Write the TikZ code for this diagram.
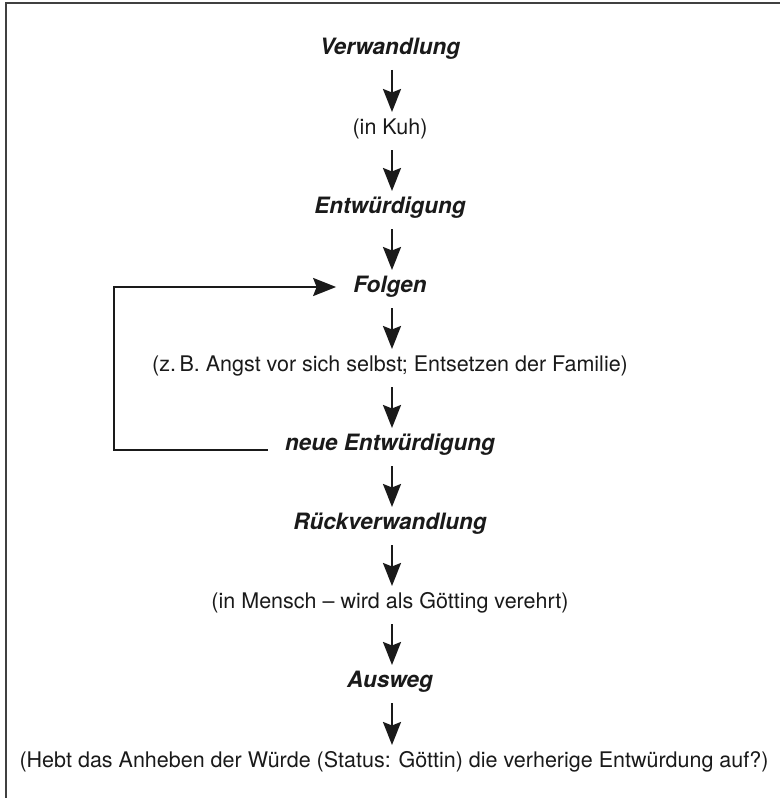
\documentclass[tikz,border=0pt]{standalone}
\usepackage{fontspec}
\setmainfont{TeX Gyre Heros}
\usetikzlibrary{arrows.meta,calc}
\definecolor{ink}{HTML}{1A1A1A}
\definecolor{framegray}{HTML}{404040}
\tikzset{
  lbl/.style={inner sep=0pt, text height=15bp, text depth=4bp, text=ink,
    font=\fontsize{21.5bp}{25bp}\selectfont},
  keyl/.style={lbl, font=\fontsize{22.5bp}{26bp}\selectfont\bfseries\itshape},
  flow/.style={draw=ink, line width=2.2bp, -{Stealth[length=23bp,width=18bp,inset=3.5bp]}},
}
\begin{document}
\begin{tikzpicture}[x=1bp,y=-1bp]
  \useasboundingbox (0,0) rectangle (780,798);
  \fill[white] (0,0) rectangle (780,798);
  \draw[framegray, line width=1.6bp] (6,798) -- (6,3) -- (780,3);

  \node[keyl] (n1) at (390,49) {Verwandlung};
  \node[lbl]  (n2) at (390,129) {(in Kuh)};
  \node[keyl] (n3) at (390,208) {Entwürdigung};
  \node[keyl] (n4) at (390,287) {Folgen};
  \node[lbl]  (n5) at (390,366) {(z.\,B. Angst vor sich selbst; Entsetzen der Familie)};
  \node[keyl] (n6) at (390,445) {neue Entwürdigung};
  \node[keyl] (n7) at (390,524) {Rückverwandlung};
  \node[lbl]  (n8) at (390,603) {(in Mensch – wird als Götting verehrt)};
  \node[keyl] (n9) at (390,682) {Ausweg};
  \node[lbl]  (n10) at (394,762) {(Hebt das Anheben der Würde (Status: Göttin) die verherige Entwürdung auf?)};

  \foreach \a/\b in {n1/n2,n2/n3,n3/n4,n4/n5,n5/n6,n6/n7,n7/n8,n8/n9,n9/n10}{
    \draw[flow] ($(\a.center)+(2,21)$) coordinate (s) -- (s |- {$(\b.center)+(0,-17)$});
  }

  \coordinate (lpA) at ($(n6.west)+(-17,5)$);
  \coordinate (lpB) at (114,0);
  \draw[flow] (lpA) -- (lpA -| lpB) -- (lpB |- n4.west) -- ($(n4.west)+(-17,0)$);
\end{tikzpicture}
\end{document}
